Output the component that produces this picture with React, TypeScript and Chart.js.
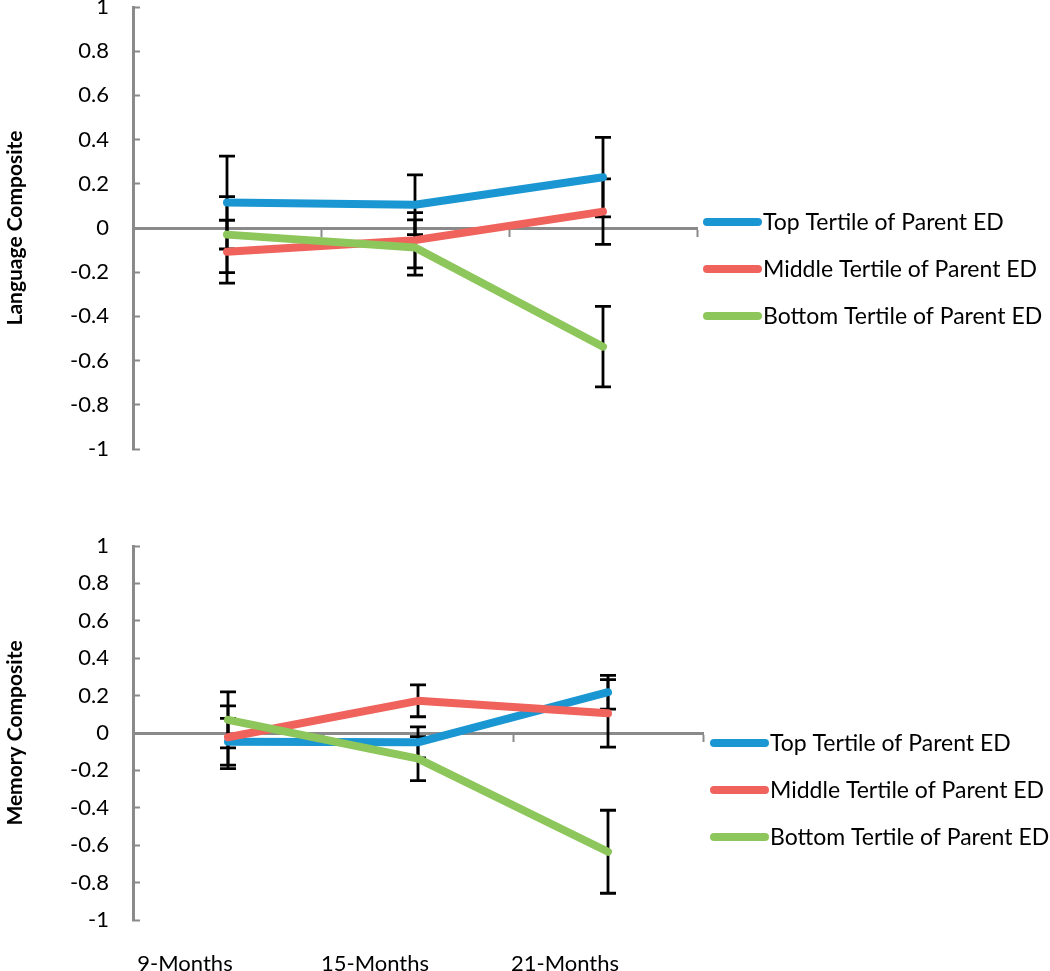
import React, { useEffect, useRef } from "react";
import { Chart, registerables } from "chart.js";

Chart.register(...registerables);

const CATEGORIES = ["9-Months", "15-Months", "21-Months"];
const SERIES_LABELS = [
  "Top Tertile of Parent ED",
  "Middle Tertile of Parent ED",
  "Bottom Tertile of Parent ED",
];
const SERIES_COLORS = ["#1a96d2", "#f0625c", "#8dc65b"];

// Language composite
const LANG_TOP = [0.115, 0.105, 0.23];
const LANG_MID = [-0.107, -0.055, 0.074];
const LANG_BOT = [-0.03, -0.088, -0.537];
const LANG_TOP_ERR = [0.21, 0.135, 0.18];
const LANG_MID_ERR = [0.142, 0.125, 0.148];
const LANG_BOT_ERR = [0.172, 0.125, 0.182];

// Memory composite
const MEM_TOP = [-0.047, -0.05, 0.218];
const MEM_MID = [-0.023, 0.172, 0.105];
const MEM_BOT = [0.07, -0.137, -0.635];
const MEM_TOP_ERR = [0.125, 0.083, 0.09];
const MEM_MID_ERR = [0.168, 0.085, 0.18];
const MEM_BOT_ERR = [0.15, 0.118, 0.222];

const Y_MIN = -1;
const Y_MAX = 1;
const Y_STEP = 0.2;

const AXIS_GREY = "#8a8a8a";
const FONT = "Lato";

const errorBarPlugin = {
  id: "errorBars",
  beforeDatasetsDraw(chart: any, _args: any, opts: any) {
    const ctx = chart.ctx;
    const xs = chart.scales.x;
    const ys = chart.scales.y;
    ctx.save();
    ctx.strokeStyle = opts.color || "#000";
    ctx.lineWidth = opts.lineWidth || 2.5;
    chart.data.datasets.forEach((ds: any) => {
      const errs: number[] = ds.errors || [];
      ds.data.forEach((v: number, i: number) => {
        const e = errs[i];
        if (e == null) return;
        const x = xs.getPixelForValue(i);
        const yTop = ys.getPixelForValue(v + e);
        const yBot = ys.getPixelForValue(v - e);
        const hw = (opts.capWidth || 14) / 2;
        ctx.beginPath();
        ctx.moveTo(x, yTop);
        ctx.lineTo(x, yBot);
        ctx.moveTo(x - hw, yTop);
        ctx.lineTo(x + hw, yTop);
        ctx.moveTo(x - hw, yBot);
        ctx.lineTo(x + hw, yBot);
        ctx.stroke();
      });
    });
    ctx.restore();
  },
};

const sideLegendPlugin = {
  id: "sideLegend",
  afterDraw(chart: any, _args: any, opts: any) {
    const ctx = chart.ctx;
    ctx.save();
    chart.data.datasets.forEach((ds: any, i: number) => {
      const y = opts.y + i * opts.gap;
      ctx.strokeStyle = ds.borderColor;
      ctx.lineWidth = opts.lineWidth;
      ctx.lineCap = "round";
      ctx.beginPath();
      ctx.moveTo(opts.x, y);
      ctx.lineTo(opts.x + opts.len, y);
      ctx.stroke();
      ctx.fillStyle = "#000";
      ctx.font = opts.font;
      ctx.textBaseline = "middle";
      ctx.textAlign = "left";
      ctx.fillText(ds.label, opts.x + opts.len + opts.textGap, y + 1);
    });
    ctx.restore();
  },
};

function makeDatasets(values: number[][], errors: number[][]) {
  return values.map((vals, i) => ({
    label: SERIES_LABELS[i],
    data: vals,
    errors: errors[i],
    borderColor: SERIES_COLORS[i],
    backgroundColor: SERIES_COLORS[i],
    borderWidth: 8,
    borderCapStyle: "round",
    borderJoinStyle: "round",
    pointRadius: 0,
    pointHoverRadius: 0,
    tension: 0,
    order: 3 - i,
  }));
}

function buildConfig(p: {
  values: number[][];
  errors: number[][];
  title: string;
  showXLabels: boolean;
  padTop: number;
  padRight: number;
  padBottom: number;
  xAxisHeight: number;
  legend: any;
}) {
  return {
    type: "line",
    data: { labels: CATEGORIES, datasets: makeDatasets(p.values, p.errors) },
    plugins: [errorBarPlugin, sideLegendPlugin],
    options: {
      responsive: false,
      animation: false,
      events: [],
      layout: {
        padding: { top: p.padTop, right: p.padRight, bottom: p.padBottom, left: 0 },
      },
      plugins: {
        legend: { display: false },
        tooltip: { enabled: false },
        title: { display: false },
        errorBars: { color: "#000", lineWidth: 2.8, capWidth: 16 },
        sideLegend: p.legend,
      },
      scales: {
        y: {
          type: "linear",
          min: Y_MIN,
          max: Y_MAX,
          afterFit: (s: any) => {
            s.width = 133;
          },
          ticks: {
            stepSize: Y_STEP,
            padding: 31,
            color: "#000",
            font: { family: FONT, size: 22 },
            callback: (v: any) => {
              const n = Math.round(Number(v) * 10) / 10;
              return String(n);
            },
          },
          grid: {
            drawOnChartArea: false,
            drawTicks: true,
            tickLength: -7,
            tickColor: AXIS_GREY,
            tickWidth: 2,
            color: AXIS_GREY,
          },
          border: { display: true, color: AXIS_GREY, width: 3 },
          title: {
            display: true,
            text: p.title,
            color: "#000",
            font: { family: FONT, size: 21, weight: "bold" },
            padding: { top: 3, bottom: 0 },
          },
        },
        x: {
          type: "category",
          position: { y: 0 },
          offset: true,
          ticks: { display: false },
          grid: {
            drawOnChartArea: false,
            offset: true,
            drawTicks: true,
            tickLength: 7,
            tickColor: AXIS_GREY,
            tickWidth: 2,
            color: AXIS_GREY,
          },
          border: { display: true, color: AXIS_GREY, width: 3 },
        },
        x2: {
          type: "category",
          position: "bottom",
          display: p.showXLabels,
          offset: true,
          afterFit: (s: any) => {
            s.height = p.xAxisHeight;
          },
          ticks: {
            color: "#000",
            padding: 31,
            labelOffset: -43,
            maxRotation: 0,
            font: { family: FONT, size: 22 },
          },
          grid: { display: false, drawTicks: false },
          border: { display: false },
        },
      },
    },
  };
}

function ChartCanvas({ config, width, height, top }: any) {
  const ref = useRef<HTMLCanvasElement | null>(null);
  useEffect(() => {
    if (!ref.current) return;
    const chart = new Chart(ref.current, config as any);
    return () => chart.destroy();
  }, []);
  return (
    <canvas
      ref={ref}
      width={width}
      height={height}
      style={{ position: "absolute", left: 0, top, width, height, display: "block" }}
    />
  );
}

export default function App() {
  // top chart: plot area spans page y 7..449, canvas starts above the page
  const topCanvasTop = -43;
  const topConfig = buildConfig({
    values: [LANG_TOP, LANG_MID, LANG_BOT],
    errors: [LANG_TOP_ERR, LANG_MID_ERR, LANG_BOT_ERR],
    title: "Language Composite",
    showXLabels: false,
    padTop: 50,
    padRight: 353,
    padBottom: 50,
    xAxisHeight: 0,
    legend: {
      x: 707,
      y: 222 - topCanvasTop,
      gap: 47,
      len: 51,
      lineWidth: 8,
      textGap: 5,
      font: `23px ${FONT}`,
    },
  });
  const bottomConfig = buildConfig({
    values: [MEM_TOP, MEM_MID, MEM_BOT],
    errors: [MEM_TOP_ERR, MEM_MID_ERR, MEM_BOT_ERR],
    title: "Memory Composite",
    showXLabels: true,
    padTop: 76,
    padRight: 347,
    padBottom: 0,
    xAxisHeight: 51,
    legend: {
      x: 714,
      y: 273,
      gap: 47,
      len: 51,
      lineWidth: 8,
      textGap: 5,
      font: `23px ${FONT}`,
    },
  });
  return (
    <div
      style={{
        position: "absolute",
        left: 0,
        top: 0,
        width: 1050,
        height: 971,
        background: "#fff",
        overflow: "hidden",
      }}
    >
      <ChartCanvas config={topConfig} width={1050} height={542} top={topCanvasTop} />
      <ChartCanvas config={bottomConfig} width={1050} height={501} top={470} />
    </div>
  );
}
